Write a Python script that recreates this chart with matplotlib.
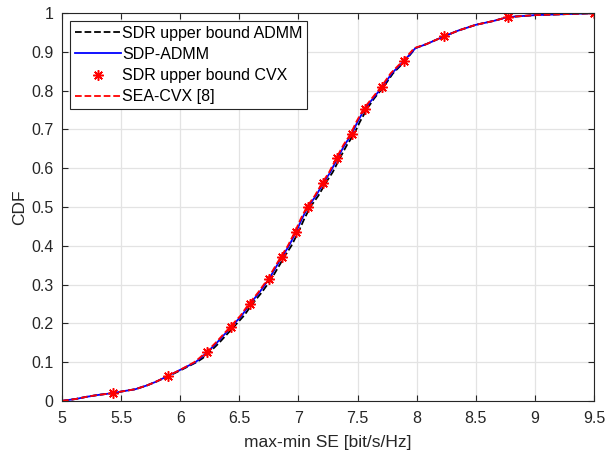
import matplotlib.pyplot as plt
import numpy as np

plt.rcParams['font.family'] = ['Liberation Sans', 'DejaVu Sans']

# CDF levels shared by the curves
cdf = [0, 0.005, 0.01, 0.015, 0.02, 0.025, 0.03, 0.04, 0.05, 0.065, 0.08, 0.1,
       0.11, 0.126, 0.15, 0.17, 0.19, 0.22, 0.25, 0.28, 0.314, 0.34, 0.371, 0.40,
       0.436, 0.47, 0.5, 0.53, 0.562, 0.59, 0.626, 0.66, 0.688, 0.72, 0.753, 0.78,
       0.81, 0.845, 0.876, 0.91, 0.92, 0.94, 0.955, 0.97, 0.98, 0.99, 0.995, 1.0]

# max-min SE values for each curve
se_sdp_admm = [5.0, 5.12, 5.2, 5.3, 5.43, 5.52, 5.62, 5.72, 5.8, 5.9, 6.0, 6.13,
               6.17, 6.23, 6.31, 6.37, 6.43, 6.52, 6.59, 6.67, 6.75, 6.8, 6.86, 6.92,
               6.98, 7.03, 7.08, 7.15, 7.21, 7.27, 7.33, 7.39, 7.45, 7.5, 7.56, 7.63,
               7.71, 7.79, 7.89, 7.99, 8.08, 8.23, 8.35, 8.5, 8.65, 8.77, 9.0, 9.5]
se_sdr_admm = [5.0, 5.12, 5.2, 5.3, 5.43, 5.52, 5.62, 5.72, 5.8, 5.91, 6.01, 6.14,
               6.19, 6.25, 6.33, 6.39, 6.45, 6.54, 6.61, 6.69, 6.77, 6.82, 6.88, 6.94,
               7.0, 7.05, 7.1, 7.17, 7.23, 7.29, 7.35, 7.41, 7.47, 7.52, 7.58, 7.64,
               7.72, 7.8, 7.9, 7.99, 8.08, 8.23, 8.35, 8.5, 8.65, 8.77, 9.0, 9.5]
se_sea_cvx = [5.0, 5.12, 5.2, 5.3, 5.43, 5.52, 5.62, 5.72, 5.8, 5.9, 6.0, 6.12,
              6.16, 6.22, 6.3, 6.36, 6.42, 6.51, 6.58, 6.66, 6.74, 6.79, 6.85, 6.91,
              6.97, 7.02, 7.07, 7.14, 7.2, 7.26, 7.32, 7.38, 7.44, 7.49, 7.55, 7.62,
              7.7, 7.78, 7.88, 7.98, 8.08, 8.23, 8.35, 8.5, 8.65, 8.77, 9.0, 9.5]

# SDR upper bound CVX (markers)
se_sdr_cvx = [5.43, 5.9, 6.23, 6.43, 6.59, 6.75, 6.86, 6.98, 7.08, 7.21, 7.33,
              7.45, 7.56, 7.71, 7.89, 8.23, 8.77, 9.5]
cdf_sdr_cvx = [0.02, 0.065, 0.126, 0.19, 0.25, 0.314, 0.371, 0.436, 0.5, 0.562,
               0.626, 0.688, 0.753, 0.81, 0.876, 0.94, 0.99, 1.0]

fig = plt.figure(figsize=(6.08, 4.55), dpi=100)
ax = fig.add_axes([0.102, 0.119, 0.875, 0.852])

ax.plot(se_sdr_admm, cdf, 'k--', lw=1.3, label='SDR upper bound ADMM')
ax.plot(se_sdp_admm, cdf, 'b-', lw=1.3, label='SDP-ADMM')
ax.plot(se_sdr_cvx, cdf_sdr_cvx, ls='none', marker=(8, 2, 0), ms=7.5, mew=1.1,
        color='r', label='SDR upper bound CVX')
ax.plot(se_sea_cvx, cdf, 'r--', lw=1.3, label='SEA-CVX [8]')

ax.set_xlim([5, 9.5])
ax.set_ylim([0, 1])
ax.set_xticks(np.arange(5, 9.51, 0.5))
ax.set_xticklabels(['5', '5.5', '6', '6.5', '7', '7.5', '8', '8.5', '9', '9.5'])
ax.set_yticks(np.arange(0, 1.01, 0.1))
ax.set_yticklabels(['0', '0.1', '0.2', '0.3', '0.4', '0.5', '0.6', '0.7', '0.8', '0.9', '1'])
ax.grid(True, color='#e3e3e3', lw=0.9)
ax.set_axisbelow(True)
ax.tick_params(direction='in', top=True, right=True, labelsize=11.5,
               color='#262626', labelcolor='#262626', length=4)
ax.tick_params(axis='x', pad=7)
ax.tick_params(axis='y', pad=6)
for s in ax.spines.values():
    s.set_color('#262626')
ax.set_xlabel('max-min SE [bit/s/Hz]', fontsize=12.5, color='#262626', labelpad=7)
ax.set_ylabel('CDF', fontsize=12.5, color='#262626', labelpad=3)

leg = ax.legend(loc='upper left', fontsize=11.5, fancybox=False, edgecolor='#262626',
                framealpha=1, handlelength=2.9, handletextpad=0.05, borderpad=0.3,
                labelspacing=0.38, borderaxespad=0.5)
leg.get_frame().set_linewidth(0.8)

fig.savefig('out.png', dpi=100)
